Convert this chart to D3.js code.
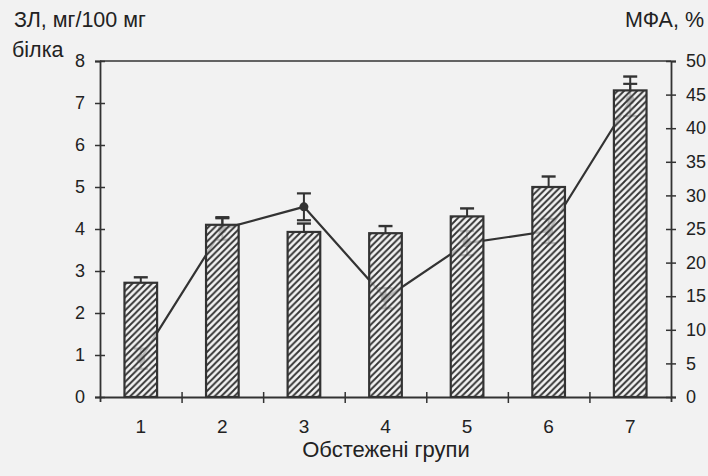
<!DOCTYPE html>
<html>
<head>
<meta charset="utf-8">
<script src="https://cdn.jsdelivr.net/npm/d3@7"></script>
<style>
  html, body { margin: 0; padding: 0; background: #f2f2f2; }
  svg { display: block; }
  text { font-family: "Liberation Sans", Arial, sans-serif; fill: #222; }
</style>
</head>
<body>
<svg id="chart" width="708" height="476"></svg>
<script>
const groups = ["1", "2", "3", "4", "5", "6", "7"];
const zlValues = [2.72, 4.1, 3.93, 3.9, 4.3, 5.0, 7.3];
const zlErrors = [0.13, 0.18, 0.2, 0.17, 0.19, 0.25, 0.33];
const mfaValues = [5.7, 25.0, 28.3, 14.7, 22.9, 24.7, 44.2];
const mfaErrors = [1.5, 1.6, 2.0, 1.5, 1.8, 1.8, 2.4];
const leftTicks = [0, 1, 2, 3, 4, 5, 6, 7, 8];
const rightTicks = [0, 5, 10, 15, 20, 25, 30, 35, 40, 45, 50];

const W = 708, H = 476;
const L = 100, R = 671, T = 61, B = 397;
const ink = "#333";

const svg = d3.select("#chart");
svg.append("rect").attr("width", W).attr("height", H).attr("fill", "#f2f2f2");

const defs = svg.append("defs");
const pat = defs.append("pattern").attr("id", "hatch")
  .attr("patternUnits", "userSpaceOnUse").attr("width", 6.5).attr("height", 6.5);
pat.append("path").attr("d", "M-1,1 l2,-2 M0,6.5 l6.5,-6.5 M5.5,7.5 l2,-2")
  .attr("stroke", ink).attr("stroke-width", 1.9);

const x = d3.scaleBand().domain(groups).range([L, R]).paddingInner(0.6).paddingOuter(0.3);
const xLin = d3.scaleLinear().domain([0, groups.length]).range([L, R]);
const yL = d3.scaleLinear().domain([0, 8]).range([B, T]);
const yR = d3.scaleLinear().domain([0, 50]).range([B, T]);
const cx = g => x(g) + x.bandwidth() / 2;

// line series (under bars)
const lineG = svg.append("g");
const capW = 7;
groups.forEach((g, i) => {
  const y1 = yR(mfaValues[i] + mfaErrors[i]), y0 = yR(mfaValues[i] - mfaErrors[i]);
  lineG.append("line").attr("x1", cx(g)).attr("x2", cx(g)).attr("y1", y0).attr("y2", y1)
    .attr("stroke", ink).attr("stroke-width", 2);
  [y0, y1].forEach(yy => lineG.append("line").attr("x1", cx(g) - capW).attr("x2", cx(g) + capW)
    .attr("y1", yy).attr("y2", yy).attr("stroke", ink).attr("stroke-width", 2.2));
});
const line = d3.line().x((d, i) => cx(groups[i])).y(d => yR(d));
lineG.append("path").datum(mfaValues).attr("d", line)
  .attr("fill", "none").attr("stroke", ink).attr("stroke-width", 2.2);
lineG.selectAll("circle").data(mfaValues).join("circle")
  .attr("cx", (d, i) => cx(groups[i])).attr("cy", d => yR(d)).attr("r", 4.5).attr("fill", ink);

// bars
const barG = svg.append("g");
groups.forEach((g, i) => {
  const top = yL(zlValues[i]);
  barG.append("rect").attr("x", x(g)).attr("y", top).attr("width", x.bandwidth())
    .attr("height", B - top).attr("fill", "#f2f2f2").attr("fill-opacity", 0.72);
  barG.append("rect").attr("x", x(g)).attr("y", top).attr("width", x.bandwidth())
    .attr("height", B - top).attr("fill", "url(#hatch)")
    .attr("stroke", ink).attr("stroke-width", 2.2);
  const ce = yL(zlValues[i] + zlErrors[i]);
  barG.append("line").attr("x1", cx(g)).attr("x2", cx(g)).attr("y1", top).attr("y2", ce)
    .attr("stroke", ink).attr("stroke-width", 2);
  barG.append("line").attr("x1", cx(g) - capW).attr("x2", cx(g) + capW).attr("y1", ce).attr("y2", ce)
    .attr("stroke", ink).attr("stroke-width", 2.4);
});

// frame top
svg.append("line").attr("x1", L).attr("x2", R).attr("y1", T).attr("y2", T)
  .attr("stroke", ink).attr("stroke-width", 1.6);

// left axis
const axL = svg.append("g").attr("transform", `translate(${L},0)`)
  .call(d3.axisLeft(yL).tickValues(leftTicks).tickSize(5).tickPadding(10).tickFormat(d3.format("d")));
axL.selectAll(".tick line").attr("x1", -5).attr("x2", 5);
// right axis
const axR = svg.append("g").attr("transform", `translate(${R},0)`)
  .call(d3.axisRight(yR).tickValues(rightTicks).tickSize(5).tickPadding(10).tickFormat(d3.format("d")));
axR.selectAll(".tick line").attr("x1", -5).attr("x2", 5);
// bottom axis (ticks between groups)
const axB = svg.append("g").attr("transform", `translate(0,${B})`)
  .call(d3.axisBottom(xLin).tickValues(d3.range(1, groups.length)).tickSize(5).tickFormat(""));
axB.selectAll(".tick line").attr("y1", -5).attr("y2", 6);
// bottom labels
const axBL = svg.append("g").attr("transform", `translate(0,${B})`)
  .call(d3.axisBottom(x).tickSize(0).tickPadding(23));
axBL.select(".domain").remove();

[axL, axR, axB].forEach(a => {
  a.select(".domain").attr("stroke", ink).attr("stroke-width", 1.8);
  a.selectAll(".tick line").attr("stroke", ink).attr("stroke-width", 1.5);
});
[axL, axR, axBL].forEach(a => a.selectAll(".tick text")
  .style("font-family", "'Liberation Sans', Arial, sans-serif").style("font-size", "18px").attr("fill", "#222"));
axBL.selectAll(".tick text").style("font-size", "19px");

// titles
svg.append("text").attr("x", 14).attr("y", 27).style("font-size", "21.5px").text("ЗЛ, мг/100 мг");
svg.append("text").attr("x", 12).attr("y", 57).style("font-size", "21.5px").text("білка");
svg.append("text").attr("x", 704).attr("y", 27).attr("text-anchor", "end").style("font-size", "21.5px").text("МФА, %");
svg.append("text").attr("x", 386).attr("y", 457).attr("text-anchor", "middle").style("font-size", "22px").text("Обстежені групи");
</script>
</body>
</html>
